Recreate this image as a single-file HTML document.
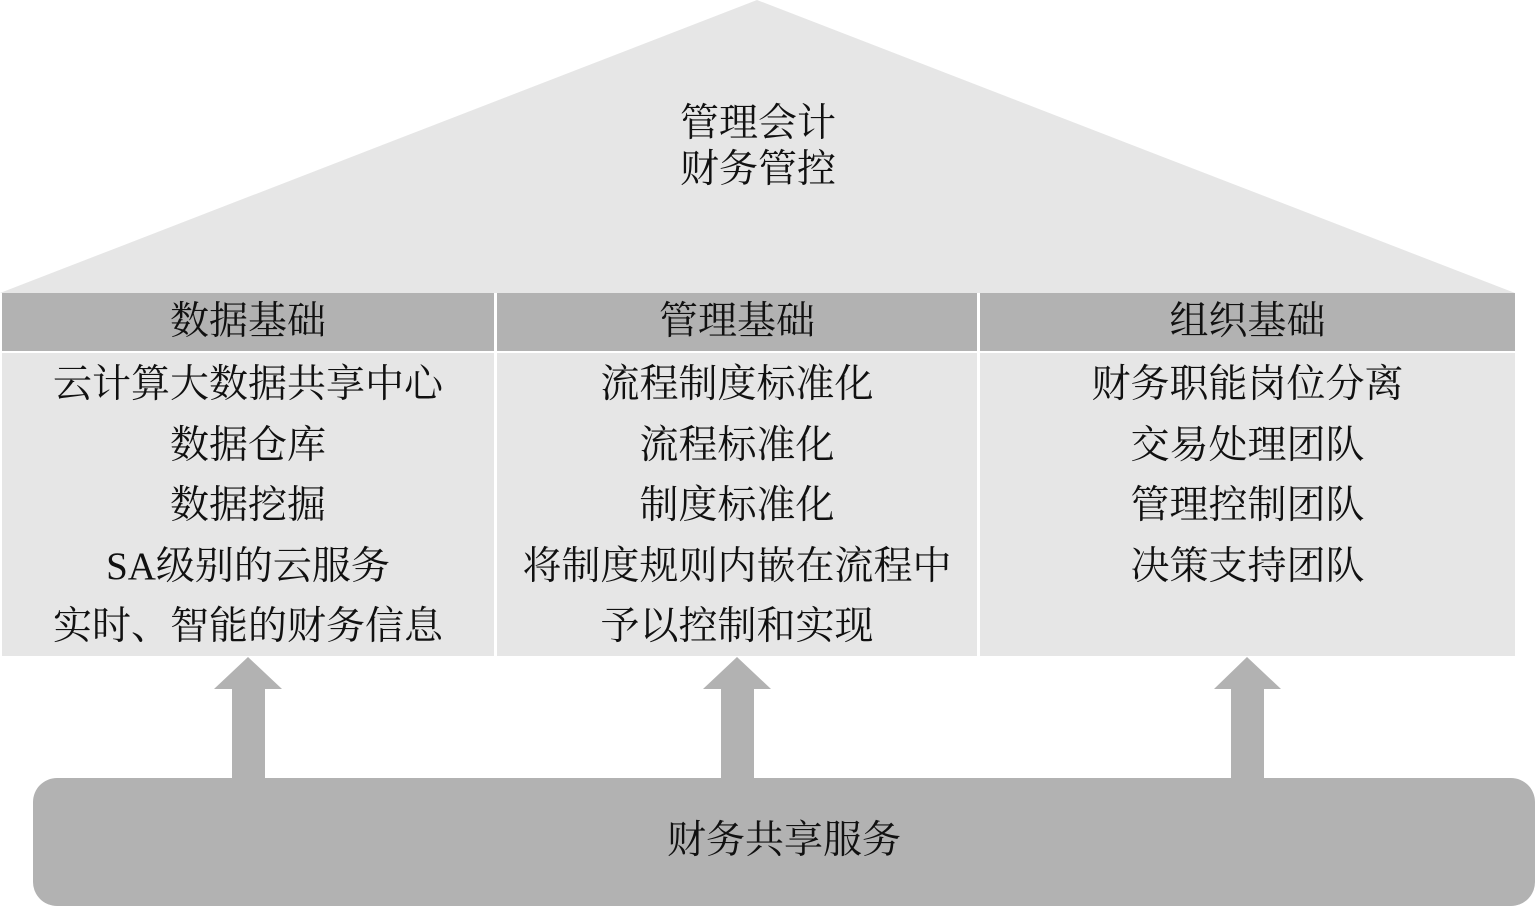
<!DOCTYPE html>
<html><head><meta charset="utf-8"><style>
body{margin:0;width:1536px;height:906px;background:#fff;position:relative;overflow:hidden;font-family:"Liberation Serif","Noto Serif CJK SC",serif;color:#111}
.a{position:absolute;text-align:center}
.h{position:absolute;top:293px;height:58px;background:#b2b2b2;font-size:39px;line-height:58px;text-align:center}
.b{position:absolute;top:353px;height:301px;background:#e6e6e6;font-size:39px;line-height:60.5px;text-align:center;padding-top:2px}
</style></head><body>
<svg width="1536" height="906" style="position:absolute;left:0;top:0">
<polygon points="0,293 757,0 1515,293" fill="#e6e6e6"/>
<polygon points="232,778 232,689 214,689 248,657 282,689 265,689 265,778" fill="#b2b2b2"/>
<polygon points="721,778 721,689 703,689 737,657 771,689 754,689 754,778" fill="#b2b2b2"/>
<polygon points="1231,778 1231,689 1214,689 1247,657 1281,689 1264,689 1264,778" fill="#b2b2b2"/>
<rect x="33" y="778" width="1502" height="128" rx="24" fill="#b2b2b2"/>
</svg>
<div class="a" style="left:600px;top:101px;width:316px;font-size:39px;line-height:46px">管理会计<br>财务管控</div>
<div class="h" style="left:2px;width:492px">数据基础</div>
<div class="h" style="left:497px;width:480px">管理基础</div>
<div class="h" style="left:980px;width:535px">组织基础</div>
<div class="b" style="left:2px;width:492px">云计算大数据共享中心<br>数据仓库<br>数据挖掘<br>SA级别的云服务<br>实时、智能的财务信息</div>
<div class="b" style="left:497px;width:480px">流程制度标准化<br>流程标准化<br>制度标准化<br>将制度规则内嵌在流程中<br>予以控制和实现</div>
<div class="b" style="left:980px;width:535px">财务职能岗位分离<br>交易处理团队<br>管理控制团队<br>决策支持团队</div>
<div class="a" style="left:33px;top:817px;width:1502px;font-size:39px;line-height:48px">财务共享服务</div>
</body></html>
